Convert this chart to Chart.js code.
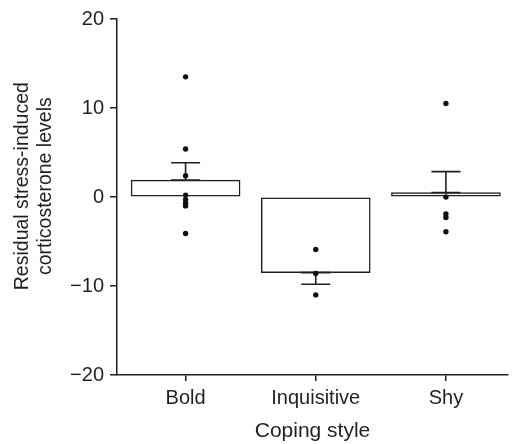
<!DOCTYPE html>
<html>
<head>
<meta charset="utf-8">
<script src="https://cdn.jsdelivr.net/npm/chart.js@4/dist/chart.umd.min.js"></script>
<style>
  html, body { margin: 0; padding: 0; background: #fff; }
  #wrap { width: 512px; height: 444px; }
</style>
</head>
<body>
<div id="wrap"><canvas id="chart"></canvas></div>
<script>
// coping styles and group means (with SE)
var categories = ["Bold", "Inquisitive", "Shy"];
var means = [1.9, -8.5, 0.5];
var errors = [1.95, 1.3, 2.35];

// individual points per group
var boldPoints = [13.5, 5.4, 2.4, 0.2, -0.3, -0.7, -1.0, -4.1];
var inquisitivePoints = [-5.9, -8.6, -11.0];
var shyPoints = [10.5, 0.0, -1.9, -2.3, -3.9];

var yTicks = [-20, -10, 0, 10, 20];

var ink = "#231f20";
Chart.defaults.font.family = "'Liberation Sans', Arial, sans-serif";
Chart.defaults.color = ink;

var barData = [];
for (let i = 0; i < categories.length; i += 1) {
    barData.push({ x: i, y: means[i] });
}
var dots = [];
[boldPoints, inquisitivePoints, shyPoints].forEach(function (arr, i) {
    arr.forEach(function (v) { dots.push({ x: i, y: v }); });
});

// mean line + one-sided SE whisker, drawn right after the bars
var errorBars = {
    id: "errorBars",
    afterDatasetDraw: function (chart, args) {
        if (args.index !== 0) return;
        var ctx = chart.ctx;
        var xs = chart.scales.x, ys = chart.scales.y;
        var half = 14.5;
        ctx.save();
        ctx.strokeStyle = ink;
        ctx.lineWidth = 1.6;
        for (let i = 0; i < means.length; i += 1) {
            var cx = xs.getPixelForValue(i);
            var m = ys.getPixelForValue(means[i]);
            var end = means[i] >= 0 ? means[i] + errors[i] : means[i] - errors[i];
            var e = ys.getPixelForValue(end);
            ctx.beginPath();
            ctx.moveTo(cx - half, m); ctx.lineTo(cx + half, m);
            ctx.moveTo(cx, m); ctx.lineTo(cx, e);
            ctx.moveTo(cx - half, e); ctx.lineTo(cx + half, e);
            ctx.stroke();
        }
        ctx.restore();
    }
};

// leading spaces nudge the rotated title a little above the axis centre
var pad = "\u00a0\u00a0\u00a0\u00a0";

new Chart(document.getElementById("chart"), {
    type: "bar",
    data: {
        datasets: [
            {
                type: "bar",
                data: barData,
                backgroundColor: "#ffffff",
                borderColor: ink,
                borderWidth: 1.5,
                borderSkipped: false,
                barThickness: 109,
                order: 1
            },
            {
                type: "scatter",
                data: dots,
                backgroundColor: "#111111",
                borderWidth: 0,
                pointRadius: 2.7,
                order: 0
            }
        ]
    },
    options: {
        responsive: true,
        maintainAspectRatio: false,
        animation: false,
        layout: { padding: { top: 19, right: 0, left: 11, bottom: 0 } },
        plugins: { legend: { display: false }, tooltip: { enabled: false } },
        scales: {
            x: {
                type: "linear",
                min: -0.527,
                max: 2.477,
                offset: false,
                afterBuildTicks: function (scale) {
                    scale.ticks = categories.map(function (c, i) { return { value: i }; });
                },
                afterFit: function (scale) { scale.height = 69; },
                ticks: {
                    callback: function (v) { return categories[v]; },
                    font: { size: 20 },
                    padding: 5,
                    maxRotation: 0,
                    autoSkip: false
                },
                grid: { offset: false, drawOnChartArea: false, tickLength: 6, color: ink, lineWidth: 1.5 },
                border: { color: ink, width: 1.5 },
                title: { display: true, text: "Coping style", font: { size: 21 }, padding: { top: 0, bottom: 0 } }
            },
            y: {
                min: -20,
                max: 20,
                afterBuildTicks: function (scale) {
                    scale.ticks = yTicks.map(function (v) { return { value: v }; });
                },
                afterFit: function (scale) { scale.width = 106; },
                ticks: {
                    callback: function (v) { return String(v).replace("-", "\u2212"); },
                    font: { size: 20 },
                    padding: 6
                },
                grid: { drawOnChartArea: false, tickLength: 7, color: ink, lineWidth: 1.5 },
                border: { color: ink, width: 1.5 },
                title: {
                    display: true,
                    text: [pad + "Residual stress-induced", pad + "corticosterone levels"],
                    font: { size: 19.5, lineHeight: 1.2 },
                    padding: { top: 0, bottom: 0 }
                }
            }
        }
    },
    plugins: [errorBars]
});
</script>
</body>
</html>
